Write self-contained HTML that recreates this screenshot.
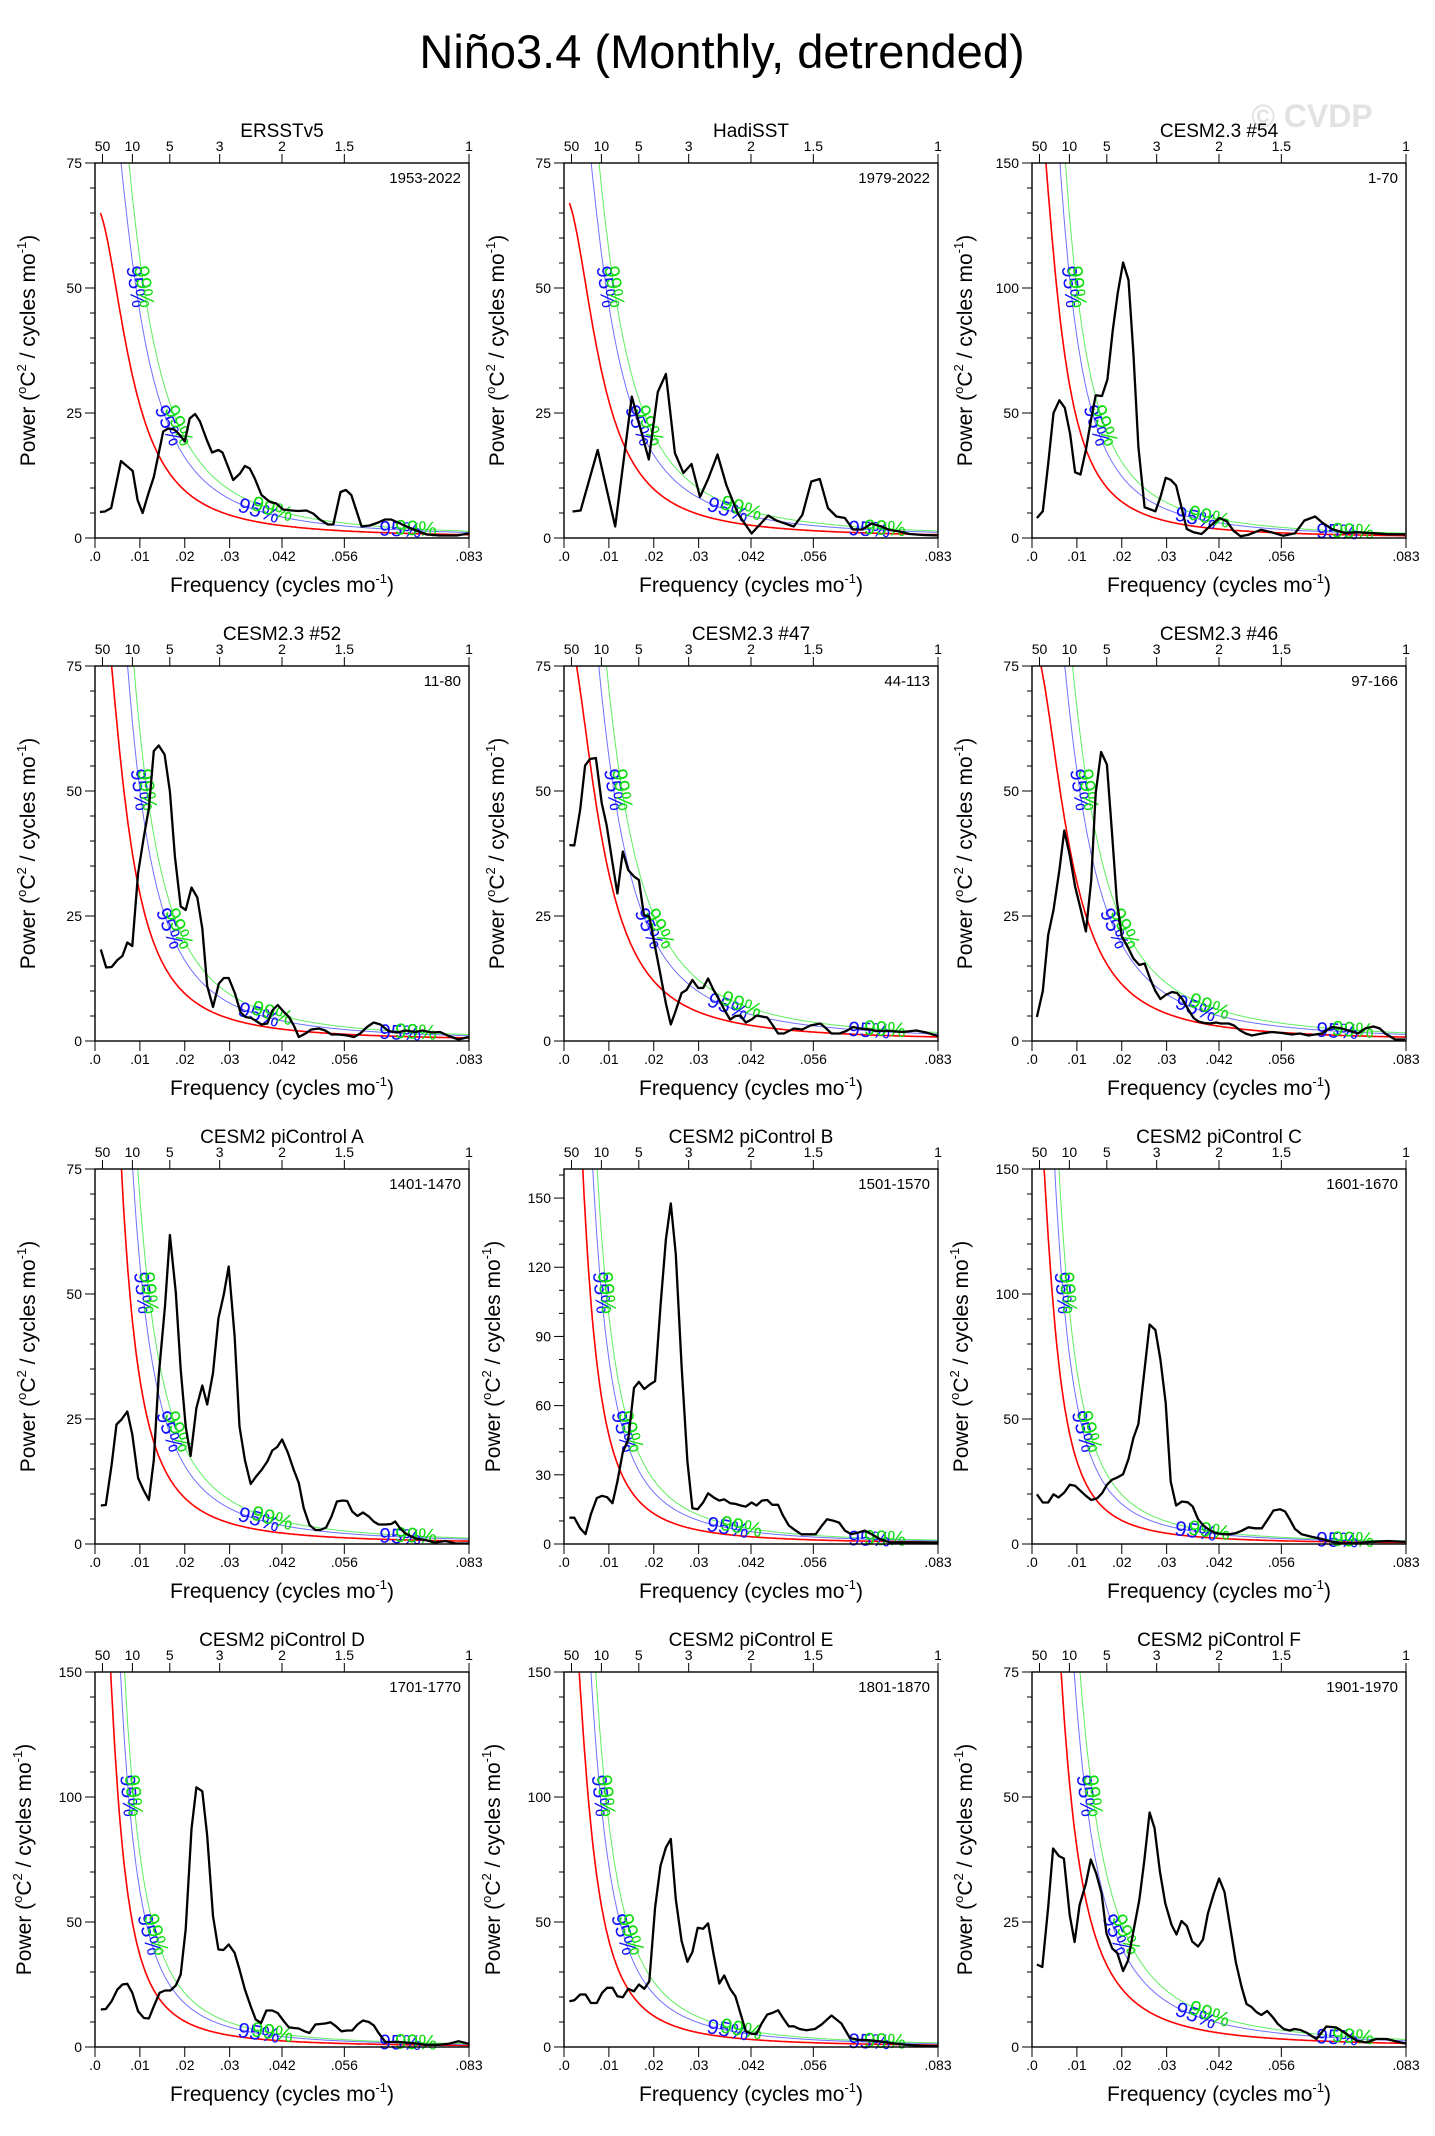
<!DOCTYPE html>
<html><head><meta charset="utf-8"><title>Niño3.4 spectra</title>
<style>
html,body{margin:0;padding:0;background:#fff;}
svg{display:block;font-family:"Liberation Sans",Arial,sans-serif;}
</style></head>
<body>
<svg id="fig" width="1435" height="2136" viewBox="0 0 1435 2136" xmlns="http://www.w3.org/2000/svg">
<text x="722" y="68" font-size="47" text-anchor="middle" fill="#000">Niño3.4 (Monthly, detrended)</text>
<text x="1312" y="127" font-size="32" font-weight="bold" text-anchor="middle" fill="#e2e2e2">© CVDP</text>
</svg>
<script>
const panelTitles = ["ERSSTv5","HadiSST","CESM2.3 #54","CESM2.3 #52","CESM2.3 #47","CESM2.3 #46","CESM2 piControl A","CESM2 piControl B","CESM2 piControl C","CESM2 piControl D","CESM2 piControl E","CESM2 piControl F"];
const panelRanges = ["1953-2022","1979-2022","1-70","11-80","44-113","97-166","1401-1470","1501-1570","1601-1670","1701-1770","1801-1870","1901-1970"];
const yMaxes = [75,75,150,75,75,75,75,162.6,150,150,150,75];
const yMajorSteps = [25,25,50,25,25,25,25,30,50,50,50,25];
const yMinorSteps = [5,5,10,5,5,5,5,10,10,10,10,5];
const xTickValues = [0,0.01,0.02,0.03,1/24,1/18,1/12];
const xTickLabels = [".0",".01",".02",".03",".042",".056",".083"];
const periodTickYears = [50,10,5,3,2,1.5,1];
const periodTickLabels = ["50","10","5","3","2","1.5","1"];
const redR = [0.95,0.95,0.965,0.96,0.95,0.95,0.975,0.975,0.973,0.975,0.97,0.97];
const redAnchorF = [0.0012,0.0012,0.0031,0.0037,0.0028,0.0020,0.0059,0.0042,0.0027,0.0035,0.0034,0.0065];
const redAnchorV = [65,67,150,75,75,75,75,162,150,150,150,75];
const ci95Factor = 1.7;
const ci99Factor = 2.1;

const freq1=[0.0011,0.0022,0.0036,0.0058,0.0084,0.0095,0.0106,0.0119,0.0131,0.0152,0.0163,0.0177,0.0189,0.0200,0.0211,0.0223,0.0234,0.0249,0.0261,0.0275,0.0284,0.0308,0.0323,0.0334,0.0345,0.0356,0.0371,0.0390,0.0404,0.0419,0.0438,0.0453,0.0471,0.0486,0.0501,0.0519,0.0531,0.0547,0.0559,0.0571,0.0594,0.0612,0.0631,0.0646,0.0660,0.0675,0.0694,0.0716,0.0739,0.0768,0.0806,0.0832];
const power1=[5.2,5.3,6.0,15.4,13.4,7.6,5.0,8.9,12.2,21.3,21.9,21.7,20.6,19.3,23.9,24.8,23.3,19.6,17.1,17.6,17.1,11.6,12.9,14.4,13.9,11.9,8.6,7.2,6.9,5.7,5.5,5.4,5.5,4.9,3.7,2.7,2.7,9.2,9.6,8.6,2.3,2.5,3.1,3.7,3.7,3.1,2.3,1.5,0.7,0.5,0.5,0.9];
const freq2=[0.0019,0.0037,0.0075,0.0114,0.0151,0.0189,0.0209,0.0227,0.0247,0.0266,0.0284,0.0303,0.0321,0.0342,0.0362,0.0388,0.0418,0.0455,0.0473,0.0512,0.0531,0.0551,0.0570,0.0588,0.0607,0.0626,0.0644,0.0665,0.0685,0.0707,0.0726,0.0748,0.0770,0.0800,0.0833];
const power2=[5.3,5.5,17.6,2.3,28.3,15.7,29.2,32.8,17.0,13.0,14.8,8.2,11.8,16.7,10.5,4.8,0.9,4.5,3.5,2.3,4.6,11.3,11.8,6.0,4.3,4.0,1.7,1.7,2.9,2.3,1.6,1.3,0.8,0.6,0.5];
const freq3=[0.0011,0.0024,0.0036,0.0048,0.0061,0.0073,0.0085,0.0096,0.0108,0.0120,0.0132,0.0142,0.0156,0.0168,0.0180,0.0191,0.0203,0.0215,0.0226,0.0237,0.0251,0.0275,0.0286,0.0298,0.0309,0.0321,0.0332,0.0345,0.0360,0.0378,0.0395,0.0418,0.0434,0.0449,0.0465,0.0482,0.0510,0.0534,0.0560,0.0586,0.0607,0.0631,0.0646,0.0668,0.0697,0.0727,0.0764,0.0794,0.0831];
const power3=[8.0,10.7,29.7,50.0,55.1,52.1,41.7,26.3,25.4,35.3,47.7,57.1,56.8,63.4,83.2,97.9,110.2,103.2,73.8,36.4,12.3,10.7,16.3,24.1,23.3,21.0,13.0,3.6,2.3,1.6,4.5,8.0,6.7,2.9,0.7,1.3,3.3,2.3,0.9,1.9,7.0,8.6,6.3,3.6,2.0,2.3,1.9,1.5,1.5];
const freq4=[0.0013,0.0025,0.0037,0.0050,0.0061,0.0072,0.0083,0.0096,0.0109,0.0120,0.0131,0.0142,0.0155,0.0167,0.0178,0.0191,0.0202,0.0215,0.0228,0.0239,0.0250,0.0263,0.0276,0.0287,0.0298,0.0312,0.0324,0.0335,0.0348,0.0359,0.0371,0.0384,0.0395,0.0407,0.0421,0.0432,0.0443,0.0454,0.0469,0.0482,0.0499,0.0513,0.0527,0.0543,0.0562,0.0577,0.0591,0.0606,0.0621,0.0636,0.0654,0.0673,0.0692,0.0714,0.0729,0.0751,0.0769,0.0788,0.0810,0.0833];
const power4=[18.3,14.7,14.8,16.2,17.0,19.7,19.0,33.6,40.9,46.6,58.0,59.1,57.3,49.9,36.9,26.9,26.2,30.7,28.7,22.5,11.0,6.8,11.5,12.6,12.6,9.5,5.8,4.8,4.6,4.0,3.3,3.5,6.1,7.2,5.8,4.8,3.1,0.8,1.5,2.3,2.5,2.1,1.3,1.3,1.1,0.8,1.5,2.8,3.7,3.3,2.0,1.7,2.1,1.8,2.1,1.7,1.8,1.0,0.3,0.8];
const freq5=[0.0012,0.0023,0.0036,0.0047,0.0058,0.0071,0.0084,0.0095,0.0108,0.0119,0.0131,0.0143,0.0156,0.0167,0.0178,0.0190,0.0203,0.0215,0.0227,0.0238,0.0249,0.0262,0.0273,0.0286,0.0299,0.0310,0.0321,0.0332,0.0345,0.0357,0.0370,0.0382,0.0393,0.0405,0.0418,0.0429,0.0441,0.0453,0.0464,0.0477,0.0490,0.0512,0.0531,0.0549,0.0571,0.0583,0.0596,0.0614,0.0629,0.0644,0.0659,0.0681,0.0696,0.0726,0.0755,0.0785,0.0807,0.0833];
const power5=[39.2,39.1,46.3,55.1,56.4,56.6,47.6,43.2,35.6,29.5,37.9,34.2,32.9,32.2,25.2,24.9,18.8,13.2,7.5,3.3,6.1,9.6,10.2,12.2,10.6,10.6,12.5,10.4,8.4,6.3,4.3,5.0,5.1,3.7,4.3,5.1,4.9,4.7,3.3,1.5,1.5,2.5,2.3,3.1,3.5,2.6,1.5,1.5,2.0,2.8,2.5,2.3,2.0,2.0,1.8,2.1,1.7,1.0];
const freq6=[0.0011,0.0024,0.0036,0.0048,0.0061,0.0072,0.0084,0.0096,0.0108,0.0120,0.0132,0.0142,0.0154,0.0167,0.0178,0.0189,0.0200,0.0214,0.0226,0.0239,0.0251,0.0263,0.0275,0.0286,0.0298,0.0312,0.0323,0.0334,0.0347,0.0360,0.0371,0.0384,0.0397,0.0410,0.0421,0.0438,0.0450,0.0464,0.0476,0.0490,0.0512,0.0534,0.0557,0.0579,0.0597,0.0616,0.0646,0.0668,0.0686,0.0709,0.0727,0.0742,0.0761,0.0775,0.0787,0.0809,0.0831];
const power6=[4.8,10.0,21.2,26.2,34.2,42.1,37.2,30.9,26.5,21.9,32.1,49.6,57.8,55.3,41.9,28.2,20.9,18.7,16.5,15.2,15.5,12.5,10.0,8.4,9.2,9.8,9.6,8.5,6.5,4.6,3.9,3.6,3.5,3.7,3.5,3.5,3.1,2.1,1.5,1.1,1.5,1.8,1.6,1.3,1.5,1.1,1.5,2.8,2.6,2.0,1.5,2.5,2.9,2.5,1.5,0.3,0.3];
const freq7=[0.0013,0.0024,0.0037,0.0048,0.0059,0.0072,0.0083,0.0096,0.0108,0.0120,0.0131,0.0142,0.0156,0.0167,0.0180,0.0191,0.0202,0.0213,0.0226,0.0239,0.0250,0.0263,0.0275,0.0287,0.0298,0.0311,0.0322,0.0334,0.0347,0.0359,0.0371,0.0384,0.0395,0.0406,0.0417,0.0430,0.0443,0.0454,0.0465,0.0478,0.0491,0.0502,0.0515,0.0527,0.0539,0.0552,0.0562,0.0573,0.0585,0.0597,0.0610,0.0621,0.0632,0.0647,0.0660,0.0669,0.0680,0.0692,0.0714,0.0736,0.0758,0.0781,0.0803,0.0833];
const power7=[7.7,7.8,15.8,23.9,24.9,26.5,21.9,13.2,10.8,8.8,16.8,33.6,47.6,61.8,50.3,34.9,23.5,17.6,27.2,31.7,27.9,34.2,45.1,49.9,55.5,41.6,23.5,16.8,12.0,13.5,14.8,16.5,18.7,19.4,20.9,18.2,14.8,12.2,7.2,3.8,2.8,2.8,3.3,5.5,8.5,8.7,8.6,6.5,5.6,6.3,5.5,4.5,3.9,3.9,4.0,4.5,3.1,2.1,1.1,0.8,0.3,0.6,0.1,0.1];
const freq8=[0.0012,0.0023,0.0036,0.0048,0.0060,0.0073,0.0085,0.0096,0.0108,0.0119,0.0131,0.0143,0.0156,0.0167,0.0179,0.0191,0.0203,0.0215,0.0227,0.0238,0.0249,0.0262,0.0275,0.0286,0.0298,0.0310,0.0321,0.0334,0.0346,0.0357,0.0370,0.0382,0.0394,0.0405,0.0418,0.0429,0.0441,0.0453,0.0464,0.0477,0.0488,0.0501,0.0514,0.0529,0.0548,0.0561,0.0574,0.0586,0.0600,0.0613,0.0626,0.0640,0.0655,0.0670,0.0685,0.0703,0.0726,0.0760,0.0800,0.0833];
const power8=[11.4,11.4,6.8,4.3,12.9,19.9,20.9,20.3,17.7,27.1,39.8,45.2,67.7,70.3,67.2,69.1,70.6,103.2,132.1,147.7,125.6,77.1,35.8,15.5,15.1,18.0,22.0,20.1,18.8,19.4,17.7,17.4,16.7,16.2,18.0,16.7,18.8,19.1,17.0,17.0,12.3,8.0,6.1,4.2,4.2,4.3,7.8,10.7,10.1,9.3,5.8,4.3,4.9,5.8,4.3,2.2,0.7,0.7,0.7,0.6];
const freq9=[0.0011,0.0024,0.0036,0.0048,0.0059,0.0072,0.0084,0.0096,0.0108,0.0120,0.0132,0.0145,0.0156,0.0167,0.0178,0.0191,0.0203,0.0215,0.0226,0.0237,0.0250,0.0262,0.0275,0.0286,0.0298,0.0309,0.0321,0.0334,0.0347,0.0358,0.0370,0.0382,0.0393,0.0407,0.0421,0.0438,0.0453,0.0467,0.0482,0.0497,0.0512,0.0527,0.0538,0.0553,0.0564,0.0575,0.0586,0.0601,0.0623,0.0646,0.0668,0.0690,0.0720,0.0757,0.0794,0.0831];
const power9=[19.9,16.6,16.6,19.9,18.6,20.6,23.7,23.3,21.3,19.3,17.6,18.3,20.3,23.7,25.7,26.7,27.9,34.0,42.4,48.0,68.5,87.8,85.6,73.8,56.4,25.0,15.4,17.0,16.7,15.0,9.9,7.4,5.9,4.5,4.0,3.9,4.3,5.3,6.7,6.3,6.3,10.3,13.4,13.9,13.0,9.6,6.0,3.9,2.9,2.0,0.9,0.3,0.3,0.9,1.2,0.9];
const freq10=[0.0013,0.0024,0.0037,0.0050,0.0061,0.0072,0.0083,0.0096,0.0109,0.0120,0.0131,0.0144,0.0156,0.0168,0.0180,0.0191,0.0202,0.0215,0.0226,0.0239,0.0250,0.0263,0.0275,0.0286,0.0298,0.0311,0.0322,0.0334,0.0347,0.0358,0.0370,0.0382,0.0395,0.0407,0.0421,0.0432,0.0443,0.0454,0.0467,0.0478,0.0491,0.0502,0.0513,0.0525,0.0537,0.0549,0.0562,0.0573,0.0585,0.0597,0.0610,0.0621,0.0632,0.0647,0.0677,0.0706,0.0736,0.0766,0.0788,0.0810,0.0833];
const power10=[15.0,15.2,18.3,23.0,25.0,25.3,21.7,14.3,11.6,11.4,16.3,21.7,22.6,22.6,24.6,29.0,47.1,87.2,103.9,102.3,84.5,52.4,39.0,38.8,41.0,37.7,31.0,23.0,16.3,11.0,9.6,14.6,14.6,13.6,10.3,7.9,7.6,7.4,6.3,5.6,9.0,9.2,9.4,9.9,8.3,6.3,6.6,6.6,9.0,10.6,10.0,8.7,5.6,2.0,2.0,1.6,0.9,0.9,1.3,2.3,1.3];
const freq11=[0.0012,0.0023,0.0036,0.0048,0.0060,0.0073,0.0085,0.0096,0.0108,0.0119,0.0131,0.0143,0.0156,0.0167,0.0179,0.0190,0.0203,0.0215,0.0227,0.0238,0.0249,0.0262,0.0275,0.0286,0.0298,0.0310,0.0321,0.0334,0.0346,0.0357,0.0370,0.0382,0.0394,0.0405,0.0418,0.0429,0.0441,0.0453,0.0464,0.0477,0.0488,0.0501,0.0512,0.0525,0.0540,0.0559,0.0574,0.0596,0.0618,0.0637,0.0655,0.0681,0.0703,0.0726,0.0763,0.0800,0.0833];
const power11=[18.3,18.7,21.0,21.0,17.6,17.6,21.7,23.7,23.7,20.3,19.9,23.3,22.3,25.0,23.3,26.3,55.8,72.5,79.8,83.2,59.1,42.4,34.1,38.0,47.7,47.3,49.5,36.4,25.4,28.6,23.3,20.3,13.0,6.3,5.3,5.3,9.6,13.0,13.6,14.7,11.6,8.3,8.3,7.2,6.7,7.2,9.0,12.6,9.4,3.6,2.9,2.7,2.3,1.6,0.9,0.5,0.3];
const freq12=[0.0011,0.0023,0.0036,0.0047,0.0060,0.0071,0.0084,0.0095,0.0106,0.0120,0.0131,0.0143,0.0155,0.0166,0.0179,0.0190,0.0203,0.0214,0.0225,0.0239,0.0250,0.0262,0.0273,0.0285,0.0297,0.0311,0.0322,0.0333,0.0345,0.0357,0.0370,0.0381,0.0392,0.0405,0.0417,0.0429,0.0442,0.0454,0.0467,0.0478,0.0489,0.0500,0.0511,0.0524,0.0536,0.0548,0.0561,0.0574,0.0585,0.0598,0.0611,0.0634,0.0656,0.0678,0.0701,0.0723,0.0745,0.0767,0.0790,0.0812,0.0833];
const power12=[16.5,16.0,28.0,39.7,38.2,37.7,26.4,21.0,28.4,32.7,37.5,34.7,30.7,22.7,19.7,18.8,15.2,17.3,22.7,29.4,37.1,46.9,43.8,35.1,28.7,24.4,22.5,25.2,24.2,21.1,20.1,21.5,26.7,30.7,33.7,31.0,23.7,17.0,12.0,8.6,8.0,7.0,6.4,7.2,6.0,4.6,3.6,3.3,3.6,3.4,2.9,1.6,4.1,3.9,2.6,1.3,0.9,1.6,1.6,1.1,0.7];

const allFreq=[freq1,freq2,freq3,freq4,freq5,freq6,freq7,freq8,freq9,freq10,freq11,freq12];
const allPower=[power1,power2,power3,power4,power5,power6,power7,power8,power9,power10,power11,power12];

const NS="http://www.w3.org/2000/svg";
const svg=document.getElementById('fig');
const colLeft=[95,564,1032], rowTop=[163,666,1169,1672], PW=374, PH=375, FMAX=1/12;
function mk(tag,attrs,parent){const e=document.createElementNS(NS,tag);for(const k in attrs)e.setAttribute(k,attrs[k]);(parent||svg).appendChild(e);return e;}

for(let p=0;p<12;p++){
  const L=colLeft[p%3], T=rowTop[Math.floor(p/3)], R=L+PW, B=T+PH, ymax=yMaxes[p];
  const X=f=>L+f/FMAX*PW;
  const Y=v=>B-v/ymax*PH;
  const g=mk('g',{});
  
  
  const cp=mk('clipPath',{id:'clip'+p},g);
  mk('rect',{x:L,y:T,width:PW,height:PH},cp);

  const r=redR[p];
  const den=f=>1+r*r-2*r*Math.cos(2*Math.PI*f);
  const A=redAnchorV[p]*den(redAnchorF[p]);
  const red=f=>A/den(f);
  const curves=[[1,'#ff0000',1.6,'red-noise-curve'],[ci95Factor,'#7070ff',1,'ci-95-curve'],[ci99Factor,'#60ee60',1,'ci-99-curve']];
  curves.forEach(c=>{
    let pts=[];
    for(let i=0;i<=400;i++){const f=0.0012+(FMAX-0.0012)*i/400;pts.push(X(f).toFixed(1)+','+Y(c[0]*red(f)).toFixed(1));}
    const pl=mk('polyline',{points:pts.join(' '),fill:'none',stroke:c[1],'stroke-width':c[2],'clip-path':'url(#clip'+p+')'},g);
    
    
  });
  const labelSpecs=[[ci95Factor,'95%','#1010ff',0.0365,0.068],[ci99Factor,'99%','#10dd10',0.0395,0.0715]];
  labelSpecs.forEach(s=>{
    const fun=f=>s[0]*red(f);
    const findF=v=>{let lo=0.0012,hi=FMAX;for(let k=0;k<60;k++){const m=(lo+hi)/2;if(fun(m)>v)lo=m;else hi=m;}return (lo+hi)/2;};
    const fs=[findF(0.67*ymax),findF(0.3*ymax),s[3],s[4]];
    fs.forEach(f=>{
      const x1=X(f),y1=Y(fun(f)),x2=X(f+0.0003),y2=Y(fun(f+0.0003));
      const ang=Math.atan2(y2-y1,x2-x1)*180/Math.PI;
      const t=mk('text',{x:x1.toFixed(1),y:y1.toFixed(1),'font-size':21,fill:s[2],'text-anchor':'middle','dominant-baseline':'central',transform:'rotate('+ang.toFixed(1)+' '+x1.toFixed(1)+' '+y1.toFixed(1)+')'},g);
      t.textContent=s[1];
      
      
    });
  });
  const fr=allFreq[p], pw=allPower[p], n=Math.min(fr.length,pw.length);
  let sp=[];for(let i=0;i<n;i++)sp.push(X(fr[i]).toFixed(1)+','+Y(pw[i]).toFixed(1));
  const line=mk('polyline',{points:sp.join(' '),fill:'none',stroke:'#000','stroke-width':2.3,'stroke-linejoin':'round','clip-path':'url(#clip'+p+')'},g);
  
  

  const fr2=mk('rect',{x:L,y:T,width:PW,height:PH,fill:'none',stroke:'#000','stroke-width':1.4},g);
  
  

  for(let v=0;v<=ymax+1e-6;v+=yMinorSteps[p]){
    const major=Math.abs(v/yMajorSteps[p]-Math.round(v/yMajorSteps[p]))<1e-6;
    mk('line',{x1:L,x2:L-(major?10:5),y1:Y(v),y2:Y(v),stroke:'#000','stroke-width':1},g);
    if(major){
      const t=mk('text',{x:L-13,y:Y(v)+5,'font-size':14,'text-anchor':'end'},g);
      t.textContent=String(v);
      
      
    }
  }
  xTickValues.forEach((f,i)=>{
    mk('line',{x1:X(f),x2:X(f),y1:B,y2:B+10,stroke:'#000','stroke-width':1},g);
    const t=mk('text',{x:X(f),y:B+23,'font-size':14,'text-anchor':'middle'},g);
    t.textContent=xTickLabels[i];
    
    
  });
  periodTickYears.forEach((yr,i)=>{
    const f=1/(12*yr);
    mk('line',{x1:X(f),x2:X(f),y1:T,y2:T-9,stroke:'#000','stroke-width':1},g);
    const t=mk('text',{x:X(f),y:T-12,'font-size':14,'text-anchor':'middle'},g);
    t.textContent=periodTickLabels[i];
    
    
  });
  const tt=mk('text',{x:L+PW/2,y:T-26,'font-size':19,'text-anchor':'middle'},g);
  tt.textContent=panelTitles[p];
  
  
  const rg=mk('text',{x:R-8,y:T+20,'font-size':15,'text-anchor':'end'},g);
  rg.textContent=panelRanges[p];
  
  
  const xt=mk('text',{x:L+PW/2,y:B+54,'font-size':21,'text-anchor':'middle'},g);
  xt.innerHTML='Frequency (cycles mo<tspan font-size="13" dy="-9">-1</tspan><tspan dy="9">)</tspan>';
  
  
  const yx=L-(p===8||p===7||p===9||p===10?64:60), yy=T+PH/2;
  const yt=mk('text',{x:yx,y:yy,'font-size':21,'text-anchor':'middle',transform:'rotate(-90 '+yx+' '+yy+')'},g);
  yt.innerHTML='Power (<tspan font-size="13" dy="-9">o</tspan><tspan dy="9">C</tspan><tspan font-size="13" dy="-9">2</tspan><tspan dy="9"> / cycles mo</tspan><tspan font-size="13" dy="-9">-1</tspan><tspan dy="9">)</tspan>';
  
  
}
</script>
</body></html>
